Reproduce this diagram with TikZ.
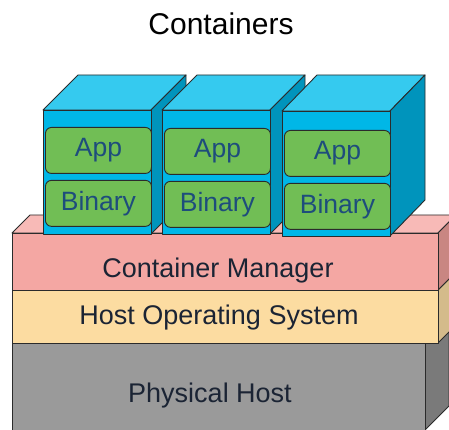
\documentclass[tikz,border=0pt]{standalone}
\usepackage{fontspec}
\setmainfont{Liberation Sans}
\usetikzlibrary{positioning}

\definecolor{edge}{HTML}{2B2B2B}
\definecolor{cfront}{HTML}{00B7E7}
\definecolor{ctop}{HTML}{35CAEF}
\definecolor{cside}{HTML}{0094BC}
\definecolor{appgreen}{HTML}{71BE55}
\definecolor{apptext}{HTML}{1E4D7C}
\definecolor{cmfront}{HTML}{F4A7A3}
\definecolor{cmtop}{HTML}{F8BAB7}
\definecolor{cmside}{HTML}{C98682}
\definecolor{osfront}{HTML}{FCDCA1}
\definecolor{osside}{HTML}{D4BB8B}
\definecolor{physfront}{HTML}{9A9A9A}
\definecolor{physside}{HTML}{7A7A7A}
\definecolor{lbltext}{HTML}{1B2434}

\begin{document}
\begin{tikzpicture}[
	x=1pt, y=-1pt,
	face/.style={ draw=edge, line width=0.9pt, line join=round, inner sep=0pt },
	cbox/.style={ face, fill=cfront, minimum width=108pt, minimum height=124pt },
	part/.style={ face, fill=appgreen, rounded corners=6pt, minimum width=106pt, minimum height=46pt, text=apptext, font=\fontsize{26.5}{30}\selectfont },
	layer/.style={ face, minimum width=426pt },
	lbl/.style={ text=lbltext, inner sep=0pt, font=\fontsize{27}{32}\selectfont }
]

\useasboundingbox (0,0) rectangle (449,430);
\clip (0,0) rectangle (449,430);

\node at (221,35) (title) [anchor=base, inner sep=0pt, font=\fontsize{30}{36}\selectfont] {Containers};

% physical host
\draw[face, fill=physside] (425,343) -- ++(24,-24) -- ++(0,87) -- ++(-24,24) -- cycle;
\node at (12,343) (phys) [face, fill=physfront, minimum width=413pt, minimum height=87pt, anchor=north west] {};
\node at (210,402) (physlbl) [lbl, anchor=base] {Physical Host};

% host operating system
\draw[face, fill=osside] (438,290) -- ++(18,-18) -- ++(0,53) -- ++(-18,18) -- cycle;
\node at (12,290) (os) [layer, fill=osfront, minimum height=53pt, anchor=north west] {};
\node at (219,324) (oslbl) [lbl, anchor=base] {Host Operating System};

% container manager
\draw[face, fill=cmtop] (12,233) -- ++(18,-18) -- ++(426,0) -- ++(-18,18) -- cycle;
\draw[face, fill=cmside] (438,233) -- ++(18,-18) -- ++(0,57) -- ++(-18,18) -- cycle;
\node at (12,233) (cm) [layer, fill=cmfront, minimum height=57pt, anchor=north west] {};
\node at (218,277) (cmlbl) [lbl, anchor=base] {Container Manager};

% container 1
\draw[face, fill=ctop] (43,110) -- ++(35,-35) -- ++(108,0) -- ++(-35,35) -- cycle;
\draw[face, fill=cside] (151,110) -- ++(35,-35) -- ++(0,124) -- ++(-35,35) -- cycle;
\node at (43,110) (box1) [cbox, anchor=north west] {};
\node (app1) [part, below=17pt of box1.north, xshift=1pt] {App};
\node (bin1) [part, below=6pt of app1] {Binary};

% container 2
\draw[face, fill=ctop] (162,110) -- ++(35,-35) -- ++(108,0) -- ++(-35,35) -- cycle;
\draw[face, fill=cside] (270,110) -- ++(35,-35) -- ++(0,124) -- ++(-35,35) -- cycle;
\node at (162,110) (box2) [cbox, anchor=north west] {};
\node (app2) [part, below=18pt of box2.north, xshift=1pt] {App};
\node (bin2) [part, below=6pt of app2] {Binary};

% container 3
\draw[face, fill=ctop] (282,111) -- ++(35,-36) -- ++(108,0) -- ++(-35,36) -- cycle;
\draw[face, fill=cside] (390,111) -- ++(35,-36) -- ++(0,125) -- ++(-35,36) -- cycle;
\node at (282,111) (box3) [cbox, anchor=north west, minimum height=125pt] {};
\node (app3) [part, below=19pt of box3.north, xshift=1pt] {App};
\node (bin3) [part, below=6pt of app3] {Binary};

\end{tikzpicture}
\end{document}
